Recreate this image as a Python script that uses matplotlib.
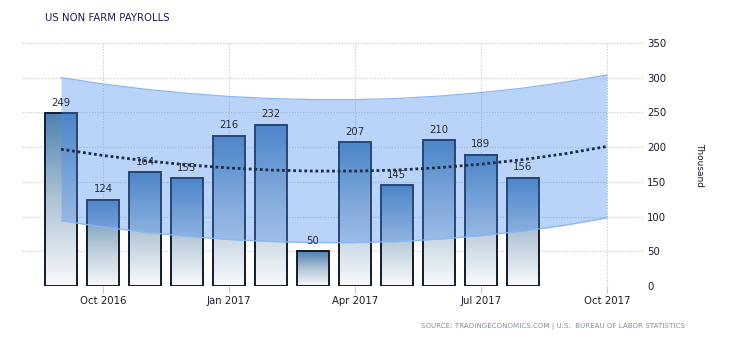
import numpy as np
import matplotlib
matplotlib.use('Agg')
import matplotlib.pyplot as plt
from matplotlib.colors import LinearSegmentedColormap

# monthly payroll changes, Sep 2016 .. Aug 2017 (thousand)
months = ['Sep 2016', 'Oct 2016', 'Nov 2016', 'Dec 2016', 'Jan 2017', 'Feb 2017',
          'Mar 2017', 'Apr 2017', 'May 2017', 'Jun 2017', 'Jul 2017', 'Aug 2017']
payrolls = [249, 124, 164, 155, 216, 232, 50, 207, 145, 210, 189, 156]

# trend / forecast band, Sep 2016 .. Oct 2017
trend = [197, 188, 180.5, 174.5, 170, 167, 165.5, 165.5, 167, 170.5, 175.5, 182, 190.5, 201]
band_hi = [300, 291, 283.5, 277.5, 273, 270, 268.5, 268.5, 270, 273.5, 278.5, 285, 293.5, 304]
band_lo = [94, 85, 77.5, 71.5, 67, 64, 62.5, 62.5, 64, 67.5, 72.5, 79, 87.5, 98]

tick_pos = [1, 4, 7, 10, 13]
tick_labels = ['Oct 2016', 'Jan 2017', 'Apr 2017', 'Jul 2017', 'Oct 2017']

fig = plt.figure(figsize=(7.3, 3.4), dpi=100)
ax = fig.add_axes([22 / 730, 54 / 340, (643 - 22) / 730, (286 - 43) / 340])

x = np.arange(len(payrolls))
w = 0.76
cmap = LinearSegmentedColormap.from_list('bar', ['#f8fafc', '#b0c4d4', '#4e82b2'])
grad = np.linspace(0, 1, 256).reshape(-1, 1)

for xi, v in zip(x, payrolls):
    ax.imshow(grad, cmap=cmap, origin='lower', aspect='auto',
              extent=[xi - w / 2, xi + w / 2, 0, v], zorder=2, interpolation='bilinear')
ax.bar(x, payrolls, width=w, fill=False, edgecolor='#121c2e', linewidth=1.4, zorder=3)

xt = np.arange(len(trend))
ax.fill_between(xt, band_lo, band_hi, color='#4a8cf0', alpha=0.38, linewidth=0, zorder=4)
ax.plot(xt, band_hi, color='#8ab6f2', lw=0.9, zorder=4)
ax.plot(xt, band_lo, color='#8ab6f2', lw=0.9, zorder=4)
ax.plot(xt, trend, color='#1c2c48', lw=2, linestyle=(0, (1, 1)), zorder=5)

for xi, v in zip(x, payrolls):
    ax.text(xi, v + 8, str(v), ha='center', va='bottom', fontsize=7.3, color='#2a2a3a', zorder=6)

ax.set_xlim(-0.93, 13.86)
ax.set_ylim(0, 350)
ax.set_yticks(range(0, 351, 50))
ax.set_xticks(tick_pos)
ax.set_xticklabels(tick_labels)
ax.yaxis.tick_right()
ax.tick_params(axis='y', length=0, pad=3, labelsize=7.3, labelcolor='#1a1a2e')
ax.tick_params(axis='x', length=5, color='#cccccc', pad=2, labelsize=7.3, labelcolor='#1a1a2e')
ax.grid(True, color='#c8c8c8', linestyle=(0, (1, 1.5)), linewidth=0.8, zorder=0)
ax.set_axisbelow(True)
for s in ax.spines.values():
    s.set_visible(False)

fig.text(700 / 730, 1 - 165 / 340, 'Thousand', rotation=-90, ha='center', va='center',
         fontsize=6.5, color='#1a1a2e')
fig.text(45 / 730, 1 - 18 / 340, 'US NON FARM PAYROLLS', ha='left', va='center',
         fontsize=7.3, color='#1a1a50')
fig.text(685 / 730, 1 - 326 / 340, 'SOURCE: TRADINGECONOMICS.COM | U.S.  BUREAU OF LABOR STATISTICS',
         ha='right', va='center', fontsize=5.1, color='#7f8ea3')

fig.savefig('out.png', dpi=100)
